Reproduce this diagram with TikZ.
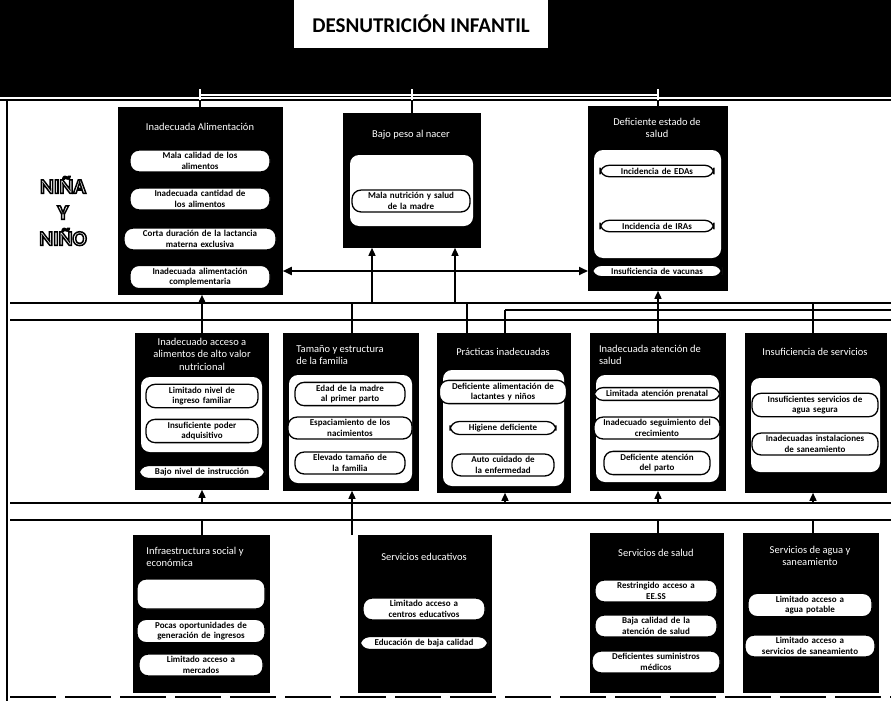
\documentclass[tikz,border=0pt]{standalone}
\usepackage{fontspec}
\setmainfont{Carlito}
\usetikzlibrary{arrows.meta,calc}
\newcommand\outlinetext[1]{\special{pdf:literal direct 1 Tr 1.5 w}#1\special{pdf:literal direct 0 Tr 0.4 w}}
\begin{document}
\begin{tikzpicture}[x=1pt,y=-1pt,
  blk/.style={fill=black,draw=black,anchor=north west,inner sep=0pt,line width=0.8pt},
  panel/.style={fill=white,rounded corners=9pt},
  hdr/.style={text=white,font=\fontsize{10.5}{12.5}\selectfont,align=center,inner sep=0pt},
  hdl/.style={text=white,font=\fontsize{10.5}{12.5}\selectfont,align=left,inner sep=0pt},
  pill/.style={fill=white,draw=black,line width=1.3pt,rounded corners=9pt,font=\fontsize{9}{10.5}\selectfont\bfseries,align=center,inner xsep=3pt,inner ysep=2.5pt},
  conn/.style={line width=1.5pt},
  wconn/.style={line width=1.5pt,white},
  up/.style={line width=1.5pt,-{Triangle[length=8pt,width=7pt]}},
  both/.style={line width=1.8pt,{Triangle[length=9pt,width=8pt]}-{Triangle[length=9pt,width=8pt]}},
  sepl/.style={line width=1.3pt}]
\useasboundingbox (0,0) rectangle (891,701);
\fill[white] (0,0) rectangle (891,701);
% top band and title
\fill[black] (0,0) rectangle (891,97);
\node[fill=white,minimum width=254pt,minimum height=48pt,inner sep=0pt,
      font=\fontsize{21}{23}\selectfont\bfseries] (title) at (421,24) {DESNUTRICIÓN INFANTIL};
% frame lines
\draw[line width=2pt] (7,100) -- (7,701);
\draw[line width=1.2pt] (0,100) -- (891,100);
\coordinate (s1) at (10,303);
\coordinate (s2) at (10,320);
\coordinate (s3) at (505,310);
\coordinate (t1) at (10,503);
\coordinate (t2) at (10,520);
\draw[sepl] (s1) -- (891,303);
\draw[sepl] (s2) -- (891,320);
\draw[sepl] (s3) -- (891,310);
\draw[sepl] (t1) -- (891,503);
\draw[sepl] (t2) -- (891,520);
\draw[line width=2.2pt,dash pattern=on 46pt off 9pt] (10,697) -- (891,697);

% ---------- row 1 ----------
\node[blk,minimum width=164pt,minimum height=187pt] (b1) at (118,107) {};
\node[hdr] (h1) at (200,127) {Inadecuada Alimentación};
\node[pill,text width=134pt] (p1a) at (200,161) {Mala calidad de los\\alimentos};
\node[pill,text width=134pt] (p1b) at (200,199) {Inadecuada cantidad de\\los alimentos};
\node[pill,text width=146pt] (p1c) at (200,239) {Corta duración de la lactancia\\materna exclusiva};
\node[pill,text width=134pt] (p1d) at (200,277) {Inadecuada alimentación\\complementaria};

\node[blk,minimum width=137pt,minimum height=134pt] (b2) at (343,113) {};
\node[hdr] (h2) at (411,135) {Bajo peso al nacer};
\fill[panel] (350,155) rectangle (473,226);
\node[pill,text width=112pt] (p2a) at (411,201) {Mala nutrición y salud\\de la madre};

\node[blk,minimum width=139pt,minimum height=184pt] (b3) at (588,106) {};
\node[hdr] (h3) at (657,128) {Deficiente estado de\\salud};
\fill[panel] (594,150) rectangle (721,258);
\node[pill,text width=108pt] (p3a) at (657,171) {Incidencia de EDAs};
\node[pill,text width=108pt] (p3b) at (657,226) {Incidencia de IRAs};
\node[pill,text width=124pt] (p3c) at (657,271) {Insuficiencia de vacunas};

% ---------- row 2 ----------
\node[blk,minimum width=133pt,minimum height=156pt] (b4) at (135,333) {};
\node[hdr] (h4) at (202,354) {Inadecuado acceso a\\alimentos de alto valor\\nutricional};
\fill[panel] (141,377) rectangle (262,452);
\node[pill,text width=106pt] (p4a) at (202,396) {Limitado nivel de\\ingreso familiar};
\node[pill,text width=106pt] (p4b) at (202,431) {Insuficiente poder\\adquisitivo};
\node[pill,text width=120pt] (p4c) at (202,472) {Bajo nivel de instrucción};

\node[blk,minimum width=135pt,minimum height=157pt] (b5) at (283,333) {};
\node[hdl] (h5) at (340,355) {Tamaño y estructura\\de la familia};
\fill[panel] (289,375) rectangle (412,483);
\node[pill,text width=104pt] (p5a) at (350,394) {Edad de la madre\\al primer parto};
\node[pill,text width=118pt] (p5b) at (350,428) {Espaciamiento de los\\nacimientos};
\node[pill,text width=104pt] (p5c) at (350,463) {Elevado tamaño de\\la familia};

\node[blk,minimum width=133pt,minimum height=159pt] (b6) at (437,333) {};
\node[hdr] (h6) at (503,352) {Prácticas inadecuadas};
\fill[panel] (443,370) rectangle (564,486);
\node[pill,text width=121pt] (p6a) at (503,392) {Deficiente alimentación de\\lactantes y niños};
\node[pill,text width=100pt] (p6b) at (503,428) {Higiene deficiente};
\node[pill,text width=96pt] (p6c) at (503,465) {Auto cuidado de\\la enfermedad};

\node[blk,minimum width=135pt,minimum height=157pt] (b7) at (590,333) {};
\node[hdl] (h7) at (650,355) {Inadecuada atención de\\salud};
\fill[panel] (596,375) rectangle (719,482);
\node[pill,text width=120pt] (p7a) at (657,394) {Limitada atención prenatal};
\node[pill,text width=120pt] (p7b) at (657,428) {Inadecuado seguimiento del\\crecimiento};
\node[pill,text width=100pt] (p7c) at (657,463) {Deficiente atención\\del parto};

\node[blk,minimum width=141pt,minimum height=159pt] (b8) at (745,333) {};
\node[hdr] (h8) at (815,352) {Insuficiencia de servicios};
\fill[panel] (751,378) rectangle (880,472);
\node[pill,text width=120pt] (p8a) at (815,405) {Insuficientes servicios de\\agua segura};
\node[pill,text width=120pt] (p8b) at (815,444) {Inadecuadas instalaciones\\de saneamiento};

% ---------- row 3 ----------
\node[blk,minimum width=136pt,minimum height=157pt] (b9) at (133,535) {};
\node[hdl] (h9) at (195,557) {Infraestructura social y\\económica};
\node[pill,text width=122pt,minimum height=30pt] (p9a) at (201,594) {};
\node[pill,text width=122pt] (p9b) at (201,631) {Pocas oportunidades de\\generación de ingresos};
\node[pill,text width=118pt] (p9c) at (201,665) {Limitado acceso a\\mercados};

\node[blk,minimum width=133pt,minimum height=157pt] (b10) at (358,535) {};
\node[hdr] (h10) at (424,557) {Servicios educativos};
\node[pill,text width=116pt] (p10a) at (424,609) {Limitado acceso a\\centros educativos};
\node[pill,text width=122pt] (p10b) at (424,643) {Educación de baja calidad};

\node[blk,minimum width=133pt,minimum height=159pt] (b11) at (590,533) {};
\node[hdr] (h11) at (656,553) {Servicios de salud};
\node[pill,text width=116pt] (p11a) at (656,591) {Restringido acceso a\\EE.SS};
\node[pill,text width=116pt] (p11b) at (656,626) {Baja calidad de la\\atención de salud};
\node[pill,text width=122pt] (p11c) at (656,662) {Deficientes suministros\\médicos};

\node[blk,minimum width=135pt,minimum height=159pt] (b12) at (743,533) {};
\node[hdr] (h12) at (810,556) {Servicios de agua y\\saneamiento};
\node[pill,text width=118pt] (p12a) at (810,605) {Limitado acceso a\\agua potable};
\node[pill,text width=124pt] (p12b) at (810,646) {Limitado acceso a\\servicios de saneamiento};

% ---------- connectors ----------
\coordinate (top) at (0,100);
\draw[conn] (b1.north -| 200,0) -- (200,100);
\draw[conn] (b2.north) -- (b2.north |- top);
\draw[conn] (b3.north -| 658,0) -- (658,100);
\draw[wconn] (200,100) -- (200,89);
\draw[wconn] (b2.north |- top) -- (b2.north |- 0,89);
\draw[wconn] (658,100) -- (658,89);
\draw[wconn] (200,95) -- (658,95);
\coordinate (y270) at (0,271);
\draw[both] (b1.east |- y270) -- (b3.west |- y270);
% row 2 to row 1
\coordinate (a1) at (202,303);
\coordinate (a2) at (372,303);
\coordinate (a3) at (455,303);
\coordinate (a4) at (658,303);
\draw[up] (a1) -- (a1 |- b1.south);
\draw[conn] (b4.north -| a1) -- (a1);
\draw[up] (a2) -- (a2 |- b2.south);
\draw[up] (a3) -- (a3 |- b2.south);
\draw[conn] (b5.north -| 352,0) -- (352,303);
\draw[conn] (b6.north -| 467,0) -- (467,303);
\draw[conn] (b6.north -| s3) -- (s3);
\draw[up] (b7.north -| a4) -- (a4 |- b3.south);
\draw[conn] (b8.north -| 813,0) -- (813,303);
% row 3 to row 2
\coordinate (r1) at (202,503);
\coordinate (r2) at (352,503);
\coordinate (r3) at (505,503);
\coordinate (r4) at (658,503);
\coordinate (r5) at (813,503);
\draw[up] (r1) -- (r1 |- b4.south);
\draw[up] (r2) -- (r2 |- b5.south);
\draw[up] (r3) -- (r3 |- b6.south);
\draw[up] (r4) -- (r4 |- b7.south);
\draw[up] (r5) -- (r5 |- b8.south);
\draw[conn] (b9.north -| r1) -- (r1 |- t2);
\draw[conn] (b10.north -| r2) -- (r2);
\draw[conn] (b11.north -| r4) -- (r4 |- t2);
\draw[conn] (b12.north -| r5) -- (r5 |- t2);

% label
\node[font=\fontsize{21}{26}\selectfont\bfseries,align=center] (nino) at (63,211)
  {\outlinetext{NIÑA}\\\outlinetext{Y}\\\outlinetext{NIÑO}};
\end{tikzpicture}
\end{document}
